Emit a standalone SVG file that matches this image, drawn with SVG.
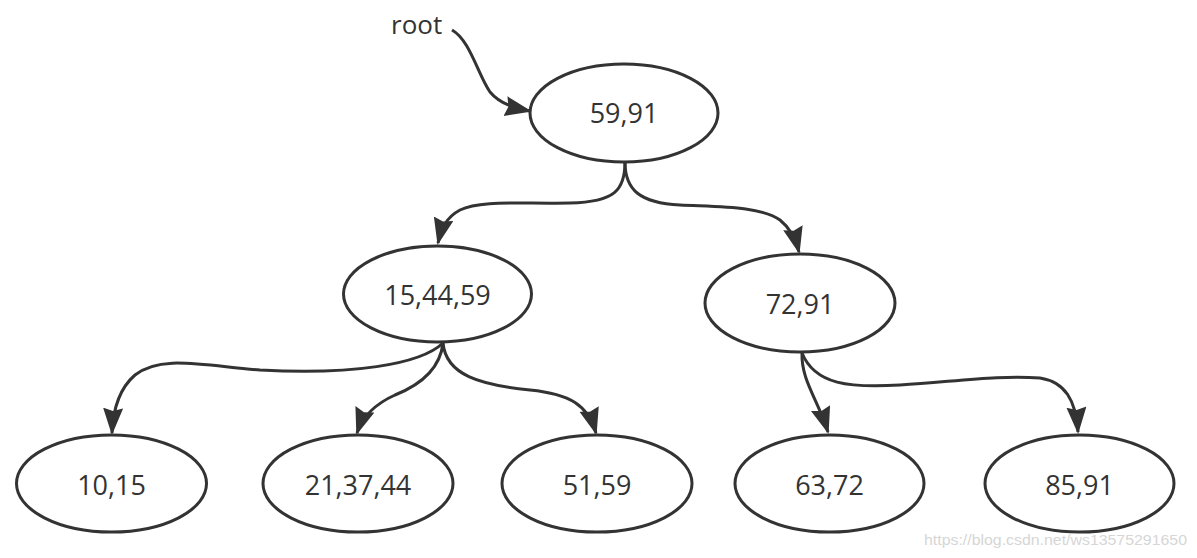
<svg xmlns="http://www.w3.org/2000/svg" width="1197" height="558" viewBox="0 0 1197 558">
<style>
.node ellipse{fill:#ffffff;stroke:#333333;stroke-width:3}
.node text{font-family:"Open Sans","Noto Sans",sans-serif;font-size:27px;fill:#333333;text-anchor:middle}
.edge{fill:none;stroke:#333333;stroke-width:3}
.lbl{font-family:"Open Sans","Noto Sans",sans-serif;font-size:26px;fill:#333333}
.wm{font-family:"Liberation Sans",Arial,sans-serif;font-size:15px;fill:#d6d6d6}
</style>
<defs>
<marker id="arr" markerUnits="userSpaceOnUse" markerWidth="28" markerHeight="22" viewBox="0 0 28 22" refX="25" refY="10" orient="auto">
<path d="M0,0 L27,10 L0,20 L3,10 z" fill="#333333"/>
</marker>
</defs>
<rect width="1197" height="558" fill="#ffffff"/>
<g id="connectors">
<path class="edge" marker-end="url(#arr)" d="M452,30 C470,40 478,75 490,92 C500,104 515,108 530,111"/>
<path class="edge" marker-end="url(#arr)" d="M625,162 C625,190 615,202 570,203 C520,204 480,200 460,210 C445,218 441,230 438,243"/>
<path class="edge" marker-end="url(#arr)" d="M625,162 C625,190 640,203 680,205 C720,207 760,206 780,220 C790,228 796,240 799,252"/>
<path class="edge" marker-end="url(#arr)" d="M443,343 C420,365 350,375 260,370 C200,365 160,355 135,375 C120,388 113,410 112,433"/>
<path class="edge" marker-end="url(#arr)" d="M443,343 C440,370 420,385 395,395 C375,404 362,418 357,433"/>
<path class="edge" marker-end="url(#arr)" d="M443,343 C446,375 480,385 530,390 C570,394 588,405 596,433"/>
<path class="edge" marker-end="url(#arr)" d="M802,353 C801,380 818,400 828,432"/>
<path class="edge" marker-end="url(#arr)" d="M802,353 C815,385 850,388 900,385 C960,381 1000,375 1040,378 C1065,382 1076,400 1078,432"/>
</g>
<text class="lbl" x="391" y="34">root</text>
<g id="n5991" class="node"><ellipse cx="624" cy="113" rx="94" ry="49"/><text x="624" y="123">59,91</text></g>
<g id="n154459" class="node"><ellipse cx="437.5" cy="294" rx="94" ry="48"/><text x="437.5" y="305">15,44,59</text></g>
<g id="n7291" class="node"><ellipse cx="800" cy="303" rx="95" ry="49"/><text x="800" y="314">72,91</text></g>
<g id="n1015" class="node"><ellipse cx="111.5" cy="483.5" rx="95" ry="48.5"/><text x="111.5" y="495">10,15</text></g>
<g id="n213744" class="node"><ellipse cx="358" cy="483.5" rx="95" ry="48.5"/><text x="358" y="495">21,37,44</text></g>
<g id="n5159" class="node"><ellipse cx="597" cy="483.5" rx="95" ry="48.5"/><text x="597" y="495">51,59</text></g>
<g id="n6372" class="node"><ellipse cx="829.5" cy="483.5" rx="94.5" ry="48.5"/><text x="829.5" y="495">63,72</text></g>
<g id="n8591" class="node"><ellipse cx="1079.5" cy="483.5" rx="94.5" ry="48.5"/><text x="1079.5" y="495">85,91</text></g>
<text class="wm" x="924" y="545" textLength="263" lengthAdjust="spacingAndGlyphs">https://blog.csdn.net/ws13575291650</text>
</svg>
